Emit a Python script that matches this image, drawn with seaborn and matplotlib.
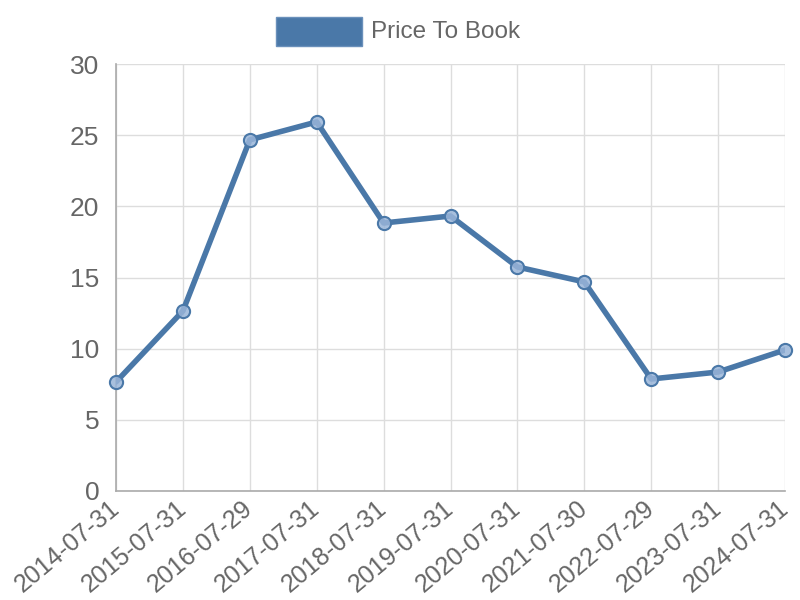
import pandas as pd
import seaborn as sns
import matplotlib.pyplot as plt

dates = ["2014-07-31", "2015-07-31", "2016-07-29", "2017-07-31", "2018-07-31", "2019-07-31",
         "2020-07-31", "2021-07-30", "2022-07-29", "2023-07-31", "2024-07-31"]
price_to_book = [7.66, 12.65, 24.67, 25.93, 18.83, 19.32, 15.74, 14.69, 7.87, 8.36, 9.91]

df = pd.DataFrame({"Date": dates, "Price To Book": price_to_book})
df["x"] = range(len(df))

sns.set_style("white")
plt.rcParams["font.family"] = ["Liberation Sans", "DejaVu Sans"]

line_color = "#4a78a8"
grid_color = "#dddddd"
text_color = "#666666"

fig = plt.figure(figsize=(8, 6), dpi=100)
ax = fig.add_axes([116 / 800, 1 - 491 / 600, (785 - 116) / 800, (491 - 64) / 600])

sns.lineplot(data=df, x="x", y="Price To Book", ax=ax, color=line_color, linewidth=4,
             label="Price To Book", legend=False, zorder=3)
ax.scatter(df["x"], df["Price To Book"], s=90, facecolor=(0.6, 0.71, 0.85, 0.85),
           edgecolor=line_color, linewidth=1.5, zorder=4, clip_on=False)

ax.set_xlim(0, len(df) - 1)
ax.set_ylim(0, 30)
ax.set_xticks(df["x"])
ax.set_xticklabels(df["Date"], rotation=40, ha="right", va="center", rotation_mode="anchor")
ax.set_yticks(range(0, 31, 5))
ax.grid(True, color=grid_color, linewidth=1)
ax.tick_params(axis="both", length=8, color=grid_color, labelcolor=text_color)
ax.tick_params(axis="y", labelsize=19, pad=4)
ax.tick_params(axis="x", labelsize=18, pad=2)
ax.set_xlabel("")
ax.set_ylabel("")
for side in ["top", "right"]:
    ax.spines[side].set_visible(False)
for side in ["left", "bottom"]:
    ax.spines[side].set_color("#aaaaaa")
    ax.spines[side].set_linewidth(1.2)

# legend box in chart.js style
fig.patches.append(plt.Rectangle((276 / 800, 1 - 46 / 600), 86 / 800, 29 / 600,
                                 transform=fig.transFigure, facecolor=line_color,
                                 edgecolor="#6a90bb", linewidth=1))
fig.text(371 / 800, 1 - 32 / 600, "Price To Book", fontsize=17.5, color=text_color,
         va="center", ha="left")

fig.savefig("out.png", dpi=100)
